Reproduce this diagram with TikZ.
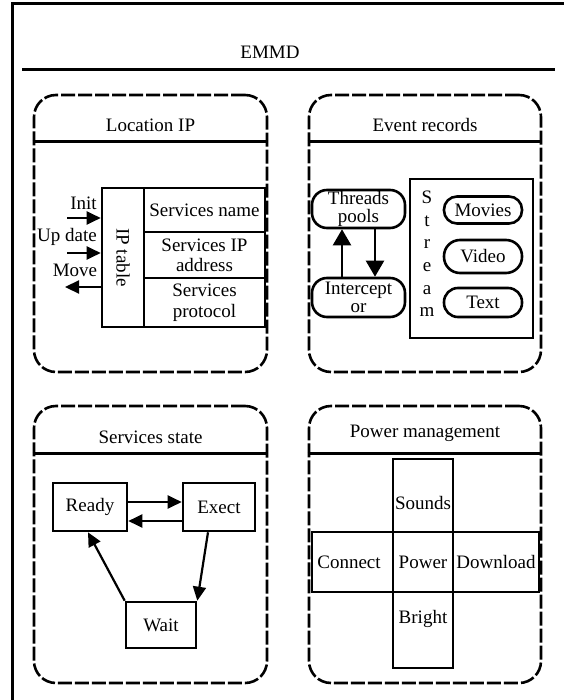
\documentclass[tikz,border=0pt]{standalone}
\usepackage{fontspec}
\setmainfont{Liberation Serif}
\usetikzlibrary{arrows.meta}

\tikzset{
  panel/.style={draw, line width=2.6pt, dash pattern=on 14pt off 3pt, rounded corners=22pt, inner sep=0pt},
  cell/.style={draw, line width=2.6pt, inner sep=0pt, align=center},
  pill/.style={cell, rounded corners=13pt},
  arr/.style={line width=2.2pt, -{Triangle[length=14pt,width=13pt]}},
  bigarr/.style={line width=2.2pt, -{Triangle[length=16pt,width=18pt]}},
}

\begin{document}
\begin{tikzpicture}[x=1pt, y=-1pt, font=\fontsize{19}{20}\selectfont]
        \useasboundingbox (0,0) rectangle (563,700);
        \draw[line width=3pt] (12,4) rectangle (620,760);
        \node (emmd) at (270,52) {EMMD};
        \draw[line width=3pt] (22,70) -- (555,70);

        % four panels
        \node[panel, minimum width=233, minimum height=277] (loc) at (150.5,233.5) {};
        \node[panel, minimum width=232, minimum height=277] (events) at (425,233.5) {};
        \node[panel, minimum width=233, minimum height=277] (state) at (150.5,544.5) {};
        \node[panel, minimum width=232, minimum height=277] (power) at (425,544.5) {};
        \foreach \p in {loc, events}
            \draw[line width=2.6pt] ([yshift=-48pt]\p.north west) -- ([yshift=-48pt]\p.north east);
        \foreach \p in {state, power}
            \draw[line width=2.6pt] ([yshift=-49pt]\p.north west) -- ([yshift=-49pt]\p.north east);
        \node (locT) at (150.5,125) {Location IP};
        \node (eventsT) at (425,125) {Event records};
        \node (stateT) at (150.5,437) {Services state};
        \node (powerT) at (425,433) {Power management};

        % Location IP
        \node[cell, minimum width=42, minimum height=139] (iptab) at (123,257.5) {\rotatebox{-90}{IP table}};
        \node[cell, minimum width=121, minimum height=44] (sname) at (204.5,210) {Services name};
        \node[cell, minimum width=121, minimum height=46, font=\fontsize{19}{20}\selectfont] (sip) at (204.5,255) {Services IP\\address};
        \node[cell, minimum width=121, minimum height=49, font=\fontsize{19}{21}\selectfont] (sproto) at (204.5,302.5) {Services\\protocol};
        \node (initL) at (83.5,203) {Init};
        \node (updL) at (67,237) {Up date};
        \node (moveL) at (75,270) {Move};
        \coordinate (initS) at (67,218);
        \coordinate (updS) at (67,253);
        \coordinate (moveE) at (65,287);
        \draw[arr] (initS) -- (initS -| iptab.west);
        \draw[arr] (updS) -- (updS -| iptab.west);
        \draw[arr] (moveE -| iptab.west) -- (moveE);

        % Event records
        \node[pill, rounded corners=15pt, minimum width=93, minimum height=38, font=\fontsize{19}{18}\selectfont] (threads) at (358.5,209) {Threads\\pools};
        \node[pill, rounded corners=15pt, minimum width=93, minimum height=39, font=\fontsize{19}{18}\selectfont] (intercept) at (358.5,297.5) {Intercept\\or};
        \draw[bigarr] ([xshift=-16.5pt]intercept.north) -- ([xshift=-16.5pt]threads.south);
        \draw[bigarr] ([xshift=16.5pt]threads.south) -- ([xshift=16.5pt]intercept.north);
        \node[cell, minimum width=123, minimum height=159] (stream) at (471.5,258.5) {};
        \node[align=center, font=\fontsize{19}{22.6}\selectfont] (streamL) at (427,254) {S\\t\\r\\e\\a\\m};
        \node[pill, minimum width=78, minimum height=27] (movies) at (483,210) {Movies};
        \node[pill, rounded corners=16pt, minimum width=78, minimum height=33] (video) at (483,256.5) {Video};
        \node[pill, rounded corners=14pt, minimum width=78, minimum height=29] (text) at (483,302.5) {Text};

        % Services state
        \node[cell, minimum width=74, minimum height=48] (ready) at (90,507) {Ready};
        \node[cell, minimum width=72, minimum height=48] (exect) at (219,507) {Exect};
        \node[cell, minimum width=70, minimum height=46] (wait) at (161,625) {Wait};
        \draw[arr] ([yshift=5pt]ready.east) -- ([yshift=5pt]exect.west);
        \draw[arr] ([yshift=-14pt]exect.west) -- ([yshift=-14pt]ready.east);
        \draw[arr] ([xshift=-11pt]exect.south) -- (wait.north east);
        \draw[arr] (wait.north west) -- ([xshift=-2pt]ready.south);

        % Power management
        \node[cell, minimum width=60, minimum height=209] (vbar) at (423,563.5) {};
        \node[cell, minimum width=227, minimum height=60] (hbar) at (425.5,562) {};
        \node (sounds) at (423,503) {Sounds};
        \node (pw) at (423,562) {Power};
        \node (bright) at (423,619) {Bright};
        \node (connect) at (349,562) {Connect};
        \node (download) at (496,562) {Download};
\end{tikzpicture}
\end{document}
